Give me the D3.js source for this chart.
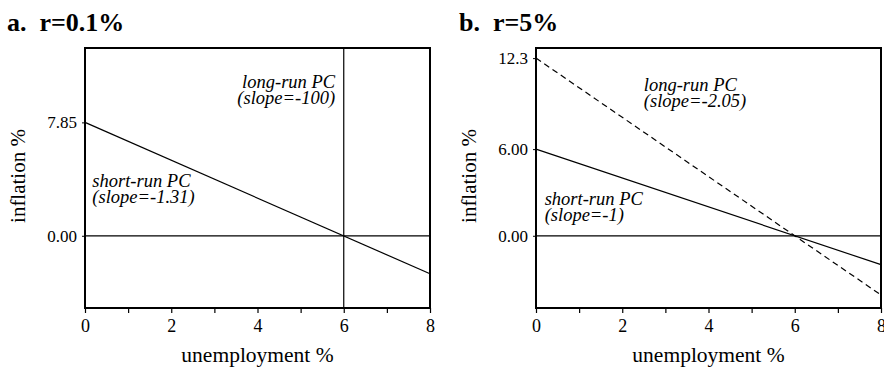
<!DOCTYPE html>
<html>
<head>
<meta charset="utf-8">
<script src="https://cdn.jsdelivr.net/npm/d3@7"></script>
<style>
  body { margin: 0; background: #fff; }
</style>
</head>
<body>
<script>
// chart values
const panelTitles = ["a.\u00a0\u00a0r=0.1%", "b.\u00a0\u00a0r=5%"];
const xDomain = [0, 8];
const yDomain = [-5, 13];
const xTicks = [0, 1, 2, 3, 4, 5, 6, 7, 8];
const xTickLabels = ["0", "", "2", "", "4", "", "6", "", "8"];

const yTicksA = [0, 7.85];
const yTickLabelsA = ["0.00", "7.85"];
const yTicksB = [0, 6, 12.3];
const yTickLabelsB = ["0.00", "6.00", "12.3"];

// lines as [unemployment, inflation] end points
const shortRunA = [[0, 7.85], [8, -2.63]];
const longRunA = [[6, 13], [6, -5]];
const shortRunB = [[0, 6], [8, -2]];
const longRunB = [[0, 12.3], [8, -4.1]];
const zeroLine = [[0, 0], [8, 0]];

const labelsA = [
    { lines: ["long-run PC", "(slope=-100)"], at: [5.8, 10.2], anchor: "end" },
    { lines: ["short-run PC", "(slope=-1.31)"], at: [0.17, 3.35], anchor: "start" }
];
const labelsB = [
    { lines: ["long-run PC", "(slope=-2.05)"], at: [2.5, 10.05], anchor: "start" },
    { lines: ["short-run PC", "(slope=-1)"], at: [0.2, 2.15], anchor: "start" }
];

const serif = "'Liberation Serif', 'Times New Roman', Times, serif";
const width = 884;
const height = 369;

const svg = d3.select("body")
    .append("svg")
    .attr("width", width)
    .attr("height", height);

function drawPanel(opts) {
    const x = d3.scaleLinear().domain(xDomain).range([opts.left, opts.right]);
    const y = d3.scaleLinear().domain(yDomain).range([308, 48]);
    const g = svg.append("g");

    // title
    g.append("text")
        .attr("x", opts.titleX)
        .attr("y", 31)
        .attr("font-size", 26)
        .attr("font-weight", "bold")
        .style("font-family", serif)
        .text(opts.title);

    // x axis ticks
    const xAxis = d3.axisBottom(x)
        .tickValues(xTicks)
        .tickSize(5)
        .tickFormat((d, i) => xTickLabels[i]);
    const ax = g.append("g")
        .attr("transform", `translate(0,${y(yDomain[0])})`)
        .call(xAxis);
    ax.select(".domain").remove();
    ax.selectAll("line").attr("stroke", "#000").attr("stroke-width", 1.2);
    ax.selectAll("text")
        .attr("font-size", 18)
        .style("font-family", serif)
        .attr("dy", "0.88em");

    // y axis ticks
    const yAxis = d3.axisLeft(y)
        .tickValues(opts.yTicks)
        .tickSize(3)
        .tickPadding(5)
        .tickFormat((d, i) => opts.yLabels[i]);
    const ay = g.append("g")
        .attr("transform", `translate(${x(xDomain[0])},0)`)
        .call(yAxis);
    ay.select(".domain").remove();
    ay.selectAll("line").attr("stroke", "#000");
    ay.selectAll("text")
        .attr("font-size", 17)
        .style("font-family", serif);

    const line = d3.line().x(d => x(d[0])).y(d => y(d[1]));

    g.append("path").datum(zeroLine).attr("d", line)
        .attr("fill", "none").attr("stroke", "#000").attr("stroke-width", 1.2);

    opts.series.forEach(s => {
        g.append("path").datum(s.data).attr("d", line)
            .attr("fill", "none")
            .attr("stroke", "#000")
            .attr("stroke-width", 1.2)
            .attr("stroke-dasharray", s.dash || null);
    });

    // frame
    g.append("rect")
        .attr("x", x(xDomain[0]))
        .attr("y", y(yDomain[1]))
        .attr("width", x(xDomain[1]) - x(xDomain[0]))
        .attr("height", y(yDomain[0]) - y(yDomain[1]))
        .attr("fill", "none")
        .attr("stroke", "#000")
        .attr("stroke-width", 2);

    // annotations
    opts.labels.forEach(l => {
        const t = g.append("text")
            .attr("font-size", 18.5)
            .attr("font-style", "italic")
            .style("font-family", serif)
            .attr("text-anchor", l.anchor)
            .attr("x", x(l.at[0]))
            .attr("y", y(l.at[1]));
        l.lines.forEach((s, i) => {
            t.append("tspan")
                .attr("x", x(l.at[0]))
                .attr("dy", i === 0 ? 0 : 16)
                .text(s);
        });
    });

    // axis titles
    g.append("text")
        .attr("x", (opts.left + opts.right) / 2)
        .attr("y", 362)
        .attr("text-anchor", "middle")
        .attr("font-size", 21.5)
        .style("font-family", serif)
        .text("unemployment %");

    g.append("text")
        .attr("transform", `translate(${opts.left - 60},176) rotate(-90)`)
        .attr("text-anchor", "middle")
        .attr("font-size", 21)
        .style("font-family", serif)
        .text("inflation %");
}

drawPanel({
    title: panelTitles[0], titleX: 7, left: 85, right: 430,
    yTicks: yTicksA, yLabels: yTickLabelsA,
    series: [{ data: shortRunA }, { data: longRunA }],
    labels: labelsA
});

drawPanel({
    title: panelTitles[1], titleX: 459, left: 536, right: 881,
    yTicks: yTicksB, yLabels: yTickLabelsB,
    series: [{ data: shortRunB }, { data: longRunB, dash: "6,4" }],
    labels: labelsB
});
</script>
</body>
</html>
